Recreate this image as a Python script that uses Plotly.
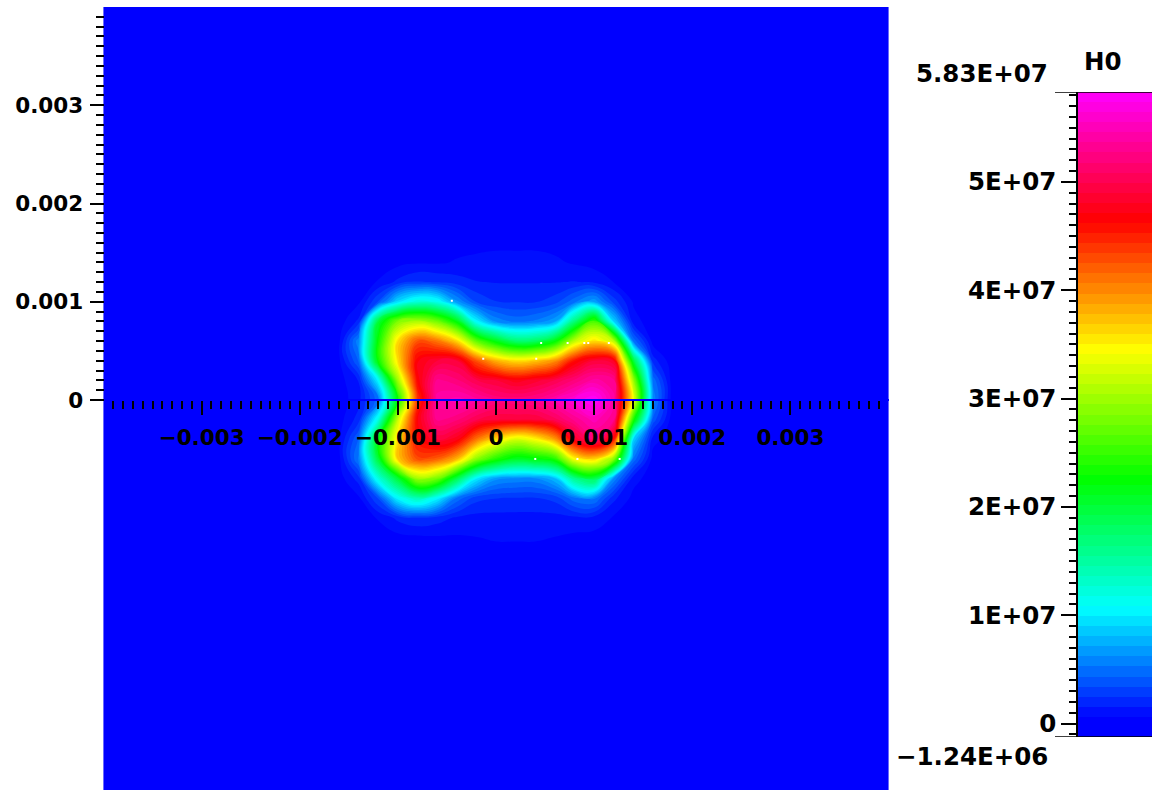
import plotly.graph_objects as go

# Field H0, in units of 1E+06
X_COORDS = [-0.004, -0.0018, -0.0016, -0.0014, -0.0012, -0.0010, -0.0008, -0.0006, -0.0004, -0.0002, 0.0,
            0.0002, 0.0004, 0.0006, 0.0008, 0.0010, 0.0012, 0.0014, 0.0016, 0.0018, 0.004]
Y_COORDS = [-0.004, -0.0018, -0.0016, -0.0014, -0.0012, -0.0010, -0.0008, -0.0006, -0.0004, -0.0002, 0.0,
            0.0002, 0.0004, 0.0006, 0.0008, 0.0010, 0.0012, 0.0014, 0.0016, 0.0018, 0.004]
BG = -0.2
H0_ROWS = [  # bottom row first
    [BG]*21,
    [BG]*21,
    [BG, 0, 0, 0, 0, 0, .1, .1, .2, .2, .3, .3, .3, .2, .1, 0, 0, 0, 0, 0, BG],
    [BG, 0, 0, 0, .1, .3, .4, .5, .5, .6, .7, .7, .7, .6, .4, .3, .1, 0, 0, 0, BG],
    [BG, 0, 0, .1, .7, 1.8, 2.4, 2, 1.4, 1.2, 1.2, 1.2, 1.2, 1.2, 1.3, 1.2, .5, 0, 0, 0, BG],
    [BG, 0, 0, .4, 3.5, 10.5, 14, 10.5, 5, 2.8, 2.5, 2.4, 2.4, 2.8, 5, 5.5, 1.8, .3, 0, 0, BG],
    [BG, 0, .1, 2, 12, 20, 30, 28, 19, 10, 6.5, 6, 6, 8, 16, 19, 6, 1, .1, 0, BG],
    [BG, 0, .3, 5.5, 20, 37, 43, 42, 38, 29, 24, 21, 22, 24, 34.5, 36.5, 29, 5, .2, 0, BG],
    [BG, 0, .4, 4.5, 22, 36, 46, 49, 47.5, 41, 36, 32.5, 34.5, 39, 48, 52, 46, 9, 1, 0, BG],
    [BG, 0, .2, 2, 12, 32, 47, 53, 52, 50, 49, 49, 49, 50.5, 53, 55, 53, 24, 4, 0, BG],
    [BG, 0, .1, 1.2, 5, 23, 44, 54, 55, 54, 52.5, 52.5, 53, 54.5, 56.5, 58.3, 54, 34, 6, 0, BG],
    [BG, 0, .2, 1.6, 10.5, 30, 46.5, 53, 52, 50, 49, 47.5, 48.5, 50, 52, 54, 53, 30, 5, 0, BG],
    [BG, 0, .4, 4.5, 23, 36, 47, 49, 49, 42.6, 38, 36, 37, 39.5, 46, 49, 48, 20, 2, 0, BG],
    [BG, 0, .4, 6, 23, 36, 42.8, 41, 36.4, 27, 21.5, 17.5, 18, 22, 31.5, 36, 31.5, 5, .2, 0, BG],
    [BG, 0, .1, 1.8, 20, 28.5, 30.6, 28, 22, 10.5, 6, 5, 5.5, 7, 17, 26, 9, 1, .1, 0, BG],
    [BG, 0, 0, .4, 3.5, 9.5, 12.5, 11.5, 6.5, 3.3, 2.5, 2.4, 2.4, 3, 5, 7, 3, .5, 0, 0, BG],
    [BG, 0, 0, .1, .7, 1.8, 2.6, 2.4, 2, 1.6, 1.5, 1.5, 1.5, 1.5, 1.6, 1.4, .6, 0, 0, 0, BG],
    [BG, 0, 0, 0, .1, .3, .5, .5, .7, .8, .8, .8, .8, .8, .5, .2, 0, 0, 0, 0, BG],
    [BG, 0, 0, 0, 0, 0, .1, .1, .3, .4, .5, .5, .5, .3, .1, 0, 0, 0, 0, 0, BG],
    [BG]*21,
    [BG]*21,
]
SPECK_X = [-0.00045, 0.00046, 0.00073, 0.0009, 0.00094, 0.00115, -0.00013, 0.00041, 0.0004, 0.00083, 0.00126]
SPECK_Y = [0.00101, 0.00058, 0.00058, 0.00058, 0.00058, 0.00058, 0.00042, 0.00042, -0.0006, -0.0006, -0.0006]

X_TICKS = [-0.003, -0.002, -0.001, 0, 0.001, 0.002, 0.003]
X_LABELS = ["\u22120.003", "\u22120.002", "\u22120.001", "0", "0.001", "0.002", "0.003"]
Y_TICKS = [0, 0.001, 0.002, 0.003]
Y_LABELS = ["0", "0.001", "0.002", "0.003"]
CB_TICKS = [0, 1e7, 2e7, 3e7, 4e7, 5e7]
CB_LABELS = ["0", "1E+07", "2E+07", "3E+07", "4E+07", "5E+07"]
Z_MIN = -1.24e6
Z_MAX = 5.83e7
N_BANDS = 64

COLORSCALE = [[0, "rgb(0,0,255)"], [0.03, "rgb(0,0,255)"], [0.2, "rgb(0,255,255)"], [0.4, "rgb(0,255,0)"],
              [0.6, "rgb(255,255,0)"], [0.8, "rgb(255,0,0)"], [1, "rgb(255,0,255)"]]

W, H = 1152, 790
L, R, T = 103.5, 888.5, 7
Y_ZERO_PX = 400
FONT = "DejaVu Sans"
AX_SIZE = 21.5
CB_SIZE = 24.5

z = [[v * 1e6 for v in row] for row in H0_ROWS]
levels = [Z_MIN + (Z_MAX - Z_MIN) * (i + 0.5) / N_BANDS for i in range(N_BANDS)]

fig = go.Figure()
fig.add_trace(go.Contour(x=X_COORDS, y=Y_COORDS, z=z, zmin=Z_MIN, zmax=Z_MAX, colorscale=COLORSCALE,
                         autocontour=False,
                         contours=dict(start=Z_MIN, end=Z_MAX, size=(Z_MAX - Z_MIN) / N_BANDS, coloring="fill",
                                       showlines=False),
                         line=dict(width=0, smoothing=1.3),
                         showscale=False, hoverinfo="skip", xaxis="x", yaxis="y"))
fig.add_trace(go.Scatter(x=SPECK_X, y=SPECK_Y, mode="markers", showlegend=False, hoverinfo="skip",
                         marker=dict(symbol="square", size=2, color="white", line=dict(width=0)),
                         xaxis="x", yaxis="y"))
fig.add_trace(go.Heatmap(x=[0, 1], y=levels, z=[[v, v] for v in levels], zmin=Z_MIN, zmax=Z_MAX,
                         colorscale=COLORSCALE, showscale=False, hoverinfo="skip", xaxis="x2", yaxis="y2"))

main_minor_x = [round(i * 0.0001, 4) for i in range(-39, 40) if i % 10 != 0]
main_minor_y = [round(i * 0.0001, 4) for i in range(1, 40) if i % 10 != 0]
cb_minor = [i * 1e6 for i in range(-1, 59) if i % 10 != 0]

fig.update_layout(
    width=W, height=H, autosize=False, margin=dict(l=0, r=0, t=0, b=0, pad=0),
    paper_bgcolor="white", plot_bgcolor="white", showlegend=False,
    font=dict(family=FONT, color="black", size=AX_SIZE),
    xaxis=dict(domain=[L / W, R / W], range=[-0.004, 0.004], anchor="free", position=(H - Y_ZERO_PX) / H,
               showgrid=False, zeroline=False, showline=True, linecolor="rgb(0,0,255)", linewidth=2,
               tickmode="array", tickvals=X_TICKS, ticktext=X_LABELS, ticks="outside", ticklen=14, tickwidth=1.5,
               tickcolor="black", tickangle=0, ticklabelstandoff=4,
               tickfont=dict(family=FONT, size=AX_SIZE, color="black", weight="bold"),
               minor=dict(tickmode="array", tickvals=main_minor_x, ticks="outside", ticklen=8, tickwidth=1.5,
                          tickcolor="black", showgrid=False)),
    yaxis=dict(domain=[0, (H - T) / H], range=[-(H - Y_ZERO_PX) / (Y_ZERO_PX - T) * 0.004, 0.004],
               anchor="free", position=L / W, side="left",
               showgrid=False, zeroline=False, showline=False,
               tickmode="array", tickvals=Y_TICKS, ticktext=Y_LABELS, ticks="outside", ticklen=14, tickwidth=1.5,
               tickcolor="black", ticklabelstandoff=2,
               tickfont=dict(family=FONT, size=AX_SIZE, color="black", weight="bold"),
               minor=dict(tickmode="array", tickvals=main_minor_y, ticks="outside", ticklen=8, tickwidth=1.5,
                          tickcolor="black", showgrid=False)),
    xaxis2=dict(domain=[1077 / W, 1], range=[0, 1], visible=False, anchor="y2"),
    yaxis2=dict(domain=[(H - 737) / H, (H - 92) / H], range=[Z_MIN, Z_MAX], anchor="free", position=1077 / W,
                side="left", showgrid=False, zeroline=False, showline=True, linecolor="black", linewidth=1.5,
                tickmode="array", tickvals=CB_TICKS, ticktext=CB_LABELS, ticks="outside", ticklen=15, tickwidth=1.5,
                tickcolor="black", ticklabelstandoff=0,
                tickfont=dict(family=FONT, size=CB_SIZE, color="black", weight="bold"),
                minor=dict(tickmode="array", tickvals=cb_minor, ticks="outside", ticklen=7, tickwidth=1.5,
                           tickcolor="black", showgrid=False)),
    shapes=[
        dict(type="line", xref="paper", yref="y2", x0=1055 / W, x1=1, y0=Z_MAX, y1=Z_MAX,
             line=dict(color="black", width=1.5)),
        dict(type="line", xref="paper", yref="y2", x0=1055 / W, x1=1, y0=Z_MIN, y1=Z_MIN,
             line=dict(color="black", width=1.5)),
    ],
    annotations=[
        dict(text="5.83E+07", xref="paper", yref="paper", x=1050 / W, y=(H - 73) / H, xanchor="right", yanchor="middle",
             showarrow=False, font=dict(family=FONT, size=CB_SIZE, color="black", weight="bold")),
        dict(text="\u22121.24E+06", xref="paper", yref="paper", x=1050 / W, y=(H - 756) / H, xanchor="right",
             yanchor="middle", showarrow=False, font=dict(family=FONT, size=CB_SIZE, color="black", weight="bold")),
        dict(text="H0", xref="paper", yref="paper", x=1103 / W, y=(H - 62) / H, xanchor="center", yanchor="middle",
             showarrow=False, font=dict(family=FONT, size=CB_SIZE, color="black", weight="bold")),
    ],
)

fig.write_html("out.html", config={"displayModeBar": False, "responsive": False},
               post_script="document.body.style.margin='0';document.documentElement.style.overflow='hidden';")
